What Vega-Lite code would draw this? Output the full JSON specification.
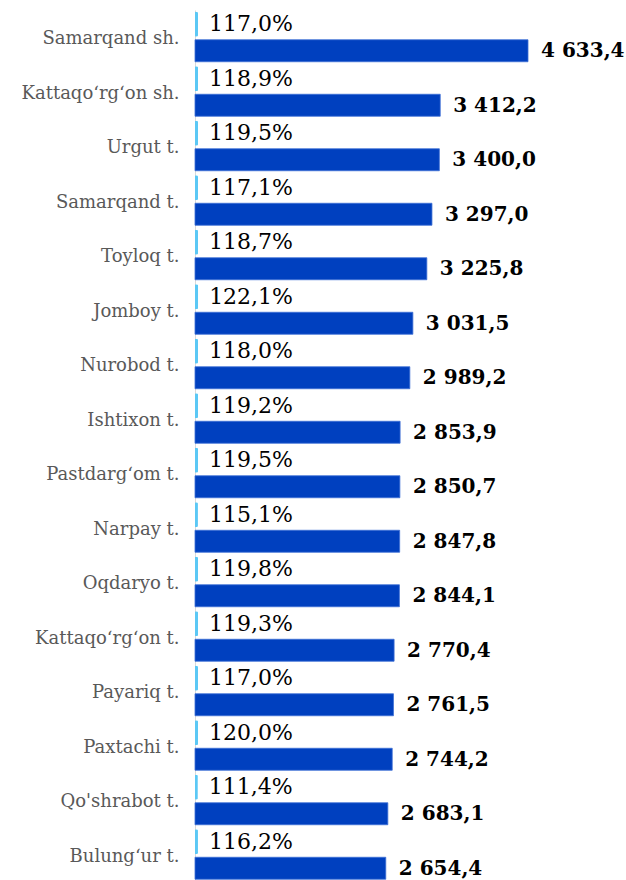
{
  "$schema": "https://vega.github.io/schema/vega-lite/v6.json",
  "autosize": "none",
  "padding": {"left": 195, "top": 10, "right": 98, "bottom": 0},
  "width": 333,
  "height": 872,
  "background": "white",
  "config": {
    "view": {"stroke": null},
    "locale": {"number": {"decimal": ",", "thousands": " ", "grouping": [3], "currency": ["", ""], "percent": "%"}}
  },
  "data": {"values": [
    {"district": "Samarqand sh.", "pct": 1.170, "value": 4633.4},
    {"district": "Kattaqo‘rg‘on sh.", "pct": 1.189, "value": 3412.2},
    {"district": "Urgut t.", "pct": 1.195, "value": 3400.0},
    {"district": "Samarqand t.", "pct": 1.171, "value": 3297.0},
    {"district": "Toyloq t.", "pct": 1.187, "value": 3225.8},
    {"district": "Jomboy t.", "pct": 1.221, "value": 3031.5},
    {"district": "Nurobod t.", "pct": 1.180, "value": 2989.2},
    {"district": "Ishtixon t.", "pct": 1.192, "value": 2853.9},
    {"district": "Pastdarg‘om t.", "pct": 1.195, "value": 2850.7},
    {"district": "Narpay t.", "pct": 1.151, "value": 2847.8},
    {"district": "Oqdaryo t.", "pct": 1.198, "value": 2844.1},
    {"district": "Kattaqo‘rg‘on t.", "pct": 1.193, "value": 2770.4},
    {"district": "Payariq t.", "pct": 1.170, "value": 2761.5},
    {"district": "Paxtachi t.", "pct": 1.200, "value": 2744.2},
    {"district": "Qo'shrabot t.", "pct": 1.114, "value": 2683.1},
    {"district": "Bulung‘ur t.", "pct": 1.162, "value": 2654.4}
  ]},
  "encoding": {
    "y": {
      "field": "district", "type": "nominal", "sort": null,
      "scale": {"paddingInner": 0, "paddingOuter": 0},
      "axis": {
        "title": null, "ticks": false, "domainColor": "#d9d9d9", "domainWidth": 1,
        "labelFont": "DejaVu Serif", "labelFontSize": 18, "labelColor": "#595959",
        "labelPadding": 16, "labelLimit": 200, "labelOffset": 2
      }
    }
  },
  "layer": [
    {
      "layer": [
        {
          "mark": {"type": "bar", "color": "#5bc8f5", "height": 25, "yOffset": -13, "cornerRadiusEnd": 1.5},
          "encoding": {"x": {"field": "pct", "type": "quantitative", "scale": {"domain": [0, 130], "nice": false}, "axis": null}}
        },
        {
          "mark": {"type": "text", "align": "left", "baseline": "middle", "dx": 11, "yOffset": -13, "font": "DejaVu Serif", "fontSize": 22, "color": "#000000"},
          "encoding": {
            "x": {"field": "pct", "type": "quantitative", "scale": {"domain": [0, 130], "nice": false}, "axis": null},
            "text": {"field": "pct", "type": "quantitative", "format": ".1%"}
          }
        }
      ]
    },
    {
      "layer": [
        {
          "mark": {"type": "bar", "color": "#0040bf", "stroke": "#3d6fd6", "strokeWidth": 0.8, "height": 22, "yOffset": 13.5},
          "encoding": {"x": {"field": "value", "type": "quantitative", "scale": {"domain": [0, 4633.4], "nice": false}, "axis": null}}
        },
        {
          "mark": {"type": "text", "align": "left", "baseline": "middle", "dx": 13, "yOffset": 14, "font": "DejaVu Serif", "fontSize": 20, "fontWeight": "bold", "color": "#000000"},
          "encoding": {
            "x": {"field": "value", "type": "quantitative", "scale": {"domain": [0, 4633.4], "nice": false}, "axis": null},
            "text": {"field": "value", "type": "quantitative", "format": ",.1f"}
          }
        }
      ]
    }
  ],
  "resolve": {"scale": {"x": "independent"}}
}
